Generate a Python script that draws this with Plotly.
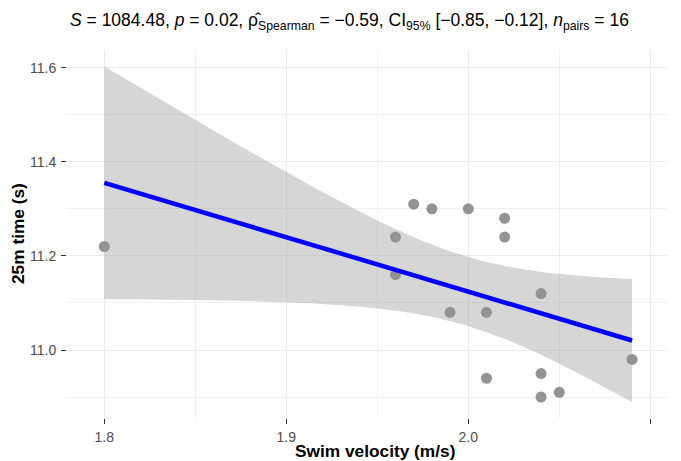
import numpy as np
import plotly.graph_objects as go

# ---- data ----
swim_velocity = [1.80, 1.96, 1.96, 1.97, 1.98, 1.99, 2.00, 2.01, 2.01, 2.02, 2.02, 2.04, 2.04, 2.04, 2.05, 2.09]
time_25m = [11.22, 11.24, 11.16, 11.31, 11.30, 11.08, 11.30, 11.08, 10.94, 11.28, 11.24, 11.12, 10.95, 10.90, 10.91, 10.98]

x_tick_vals = [1.8, 1.9, 2.0, 2.1]
x_tick_text = ["1.8", "1.9", "2.0", ""]
x_minor_vals = [1.85, 1.95, 2.05]
y_tick_vals = [11.0, 11.2, 11.4, 11.6]
y_tick_text = ["11.0", "11.2", "11.4", "11.6"]
y_minor_vals = [10.9, 11.1, 11.3, 11.5]

subtitle = ("<i>S</i> = 1084.48, <i>p</i> = 0.02, ρ\u0302<sub>Spearman</sub> = \u22120.59, "
            "CI<sub>95%</sub> [\u22120.85, \u22120.12], <i>n</i><sub>pairs</sub> = 16")
x_title = "Swim velocity (m/s)"
y_title = "25m time (s)"

# ---- linear fit with 95% CI (as geom_smooth(method='lm')) ----
x = np.array(swim_velocity)
y = np.array(time_25m)
n = len(x)
slope, intercept = np.polyfit(x, y, 1)
resid = y - (slope * x + intercept)
s = np.sqrt(np.sum(resid ** 2) / (n - 2))
sxx = np.sum((x - x.mean()) ** 2)
t_crit = 2.144787  # t(0.975, df=14)
xs = np.linspace(x.min(), x.max(), 80)
ys = slope * xs + intercept
se = s * np.sqrt(1.0 / n + (xs - x.mean()) ** 2 / sxx)
upper = ys + t_crit * se
lower = ys - t_crit * se

fig = go.Figure()
fig.add_trace(go.Scatter(
    x=np.concatenate([xs, xs[::-1]]), y=np.concatenate([upper, lower[::-1]]),
    fill="toself", fillcolor="rgba(153,153,153,0.4)", line=dict(width=0),
    mode="lines", hoverinfo="skip", showlegend=False))
fig.add_trace(go.Scatter(
    x=swim_velocity, y=time_25m, mode="markers",
    marker=dict(size=11, color="#939393", line=dict(width=0)), showlegend=False))
fig.add_trace(go.Scatter(
    x=xs, y=ys, mode="lines", line=dict(color="#0000FF", width=4.5), showlegend=False))

FONT = "Liberation Sans, Arial, sans-serif"
axis_common = dict(
    showline=False, zeroline=False,
    gridcolor="#EBEBEB", gridwidth=1.1,
    ticks="outside", ticklen=5, tickwidth=1, tickcolor="#333333",
    tickfont=dict(family=FONT, size=14, color="#4D4D4D"),
)

fig.update_xaxes(
    range=[1.7795, 2.1092], tickmode="array", tickvals=x_tick_vals, ticktext=x_tick_text,
    minor=dict(tickmode="array", tickvals=x_minor_vals, showgrid=True, gridcolor="#F0F0F0", gridwidth=0.6),
    ticklabelstandoff=1,
    **axis_common)
fig.update_yaxes(
    range=[10.8555, 11.6376], tickmode="array", tickvals=y_tick_vals, ticktext=y_tick_text,
    minor=dict(tickmode="array", tickvals=y_minor_vals, showgrid=True, gridcolor="#F0F0F0", gridwidth=0.6),
    ticklabelstandoff=2,
    **axis_common)

fig.update_layout(
    width=681, height=461,
    margin=dict(l=67, r=14, t=50, b=43),
    plot_bgcolor="white", paper_bgcolor="white",
    font=dict(family=FONT),
    title=dict(text=subtitle, x=0, xref="paper", xanchor="left",
               y=1 - 20 / 461, yref="container", yanchor="middle",
               pad=dict(l=3),
               font=dict(size=17.5, color="#000000")),
    annotations=[
        dict(text="<b>" + x_title + "</b>", x=0.5, y=0, xref="paper", yref="paper",
             xanchor="center", yanchor="middle", xshift=8, yshift=-33, showarrow=False,
             font=dict(size=17.3, color="#000000")),
        dict(text="<b>" + y_title + "</b>", x=0, y=0.5, xref="paper", yref="paper",
             xanchor="center", yanchor="middle", xshift=-49, textangle=-90, showarrow=False,
             font=dict(size=17.3, color="#000000")),
    ],
)

fig.write_html("out.html", config={"displayModeBar": False},
               post_script="document.body.style.margin='0';")
